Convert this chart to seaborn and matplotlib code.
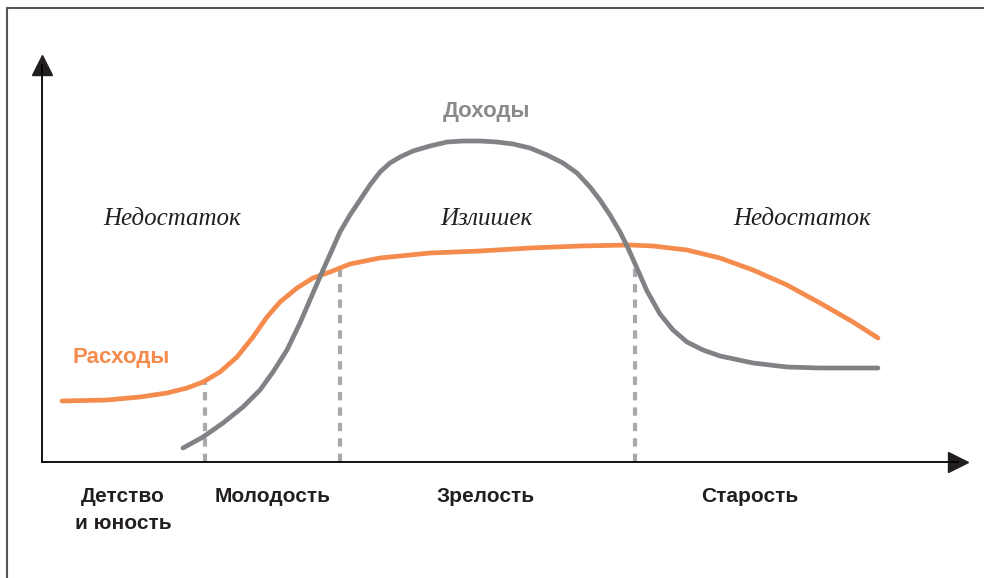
import pandas as pd
import seaborn as sns
import matplotlib.pyplot as plt
from matplotlib.lines import Line2D

# Curves (x = life time, y = amount, arbitrary units)
exp_x = [20, 65, 98, 125, 145, 161, 178, 195, 211, 225, 238, 255, 271, 288, 308, 338,
         388, 438, 488, 538, 588, 611, 645, 678, 711, 745, 778, 811, 836]
exp_y = [61, 62, 65, 69, 74, 80, 90, 105, 125, 145, 160, 174, 184, 190, 198, 204,
         209, 211, 214, 216, 217, 216, 212, 204, 192, 177, 159, 140, 124]

inc_x = [141, 161, 181, 201, 218, 231, 245, 258, 271, 281, 290, 298, 308, 318, 328, 338,
         348, 358, 371, 388, 405, 421, 438, 455, 471, 488, 505, 521, 535, 548, 558, 568,
         578, 586, 594, 605, 618, 631, 645, 661, 678, 711, 745, 778, 811, 836]
inc_y = [14, 25, 39, 55, 72, 90, 112, 139, 169, 192, 212, 230, 247, 262, 277, 290,
         299, 305, 311, 316, 320, 321, 321, 320, 318, 314, 307, 299, 289, 275, 262, 247,
         230, 214, 196, 171, 148, 132, 120, 112, 106, 99, 95, 94, 94, 94]

# stage boundaries and the height of their dotted guides
bound_x = [163, 298, 593]
bound_top = [80, 194, 195]

stages = ["Детство\nи юность", "Молодость", "Зрелость", "Старость"]
stage_x = [81, 231, 444, 708]

orange = "#f58b4c"
grey = "#808285"

sns.set_style("white")
plt.rcParams["font.family"] = ["Liberation Sans", "DejaVu Sans"]

fig = plt.figure(figsize=(9.84, 5.78), dpi=100)
ax = fig.add_axes([42 / 984, 116 / 578, 916 / 984, 397 / 578])

# dotted guides first so the curves sit on top
ax.vlines(bound_x, 0, bound_top, colors="#a7a9ac", linewidth=3, linestyles=(0, (2, 1.7)))

exp = pd.DataFrame({"x": exp_x, "y": exp_y})
inc = pd.DataFrame({"x": inc_x, "y": inc_y})
sns.lineplot(data=exp, x="x", y="y", ax=ax, color=orange, linewidth=3.4, sort=False)
sns.lineplot(data=inc, x="x", y="y", ax=ax, color=grey, linewidth=3.4, sort=False)
for ln in ax.lines:
    ln.set_solid_joinstyle("round")

ax.set_xlim(0, 916)
ax.set_ylim(0, 397)
ax.set_xticks([])
ax.set_yticks([])
ax.set_xlabel("")
ax.set_ylabel("")
for s in ["top", "right"]:
    ax.spines[s].set_visible(False)
for s in ["left", "bottom"]:
    ax.spines[s].set_color("black")
    ax.spines[s].set_linewidth(1.3)

# arrow heads
ax.plot(1, 0, ">", color="#231f20", markersize=14, transform=ax.transAxes, clip_on=False)
ax.plot(0, 1, "^", color="#231f20", markersize=14, transform=ax.transAxes, clip_on=False)

# labels
ax.text(444, 350, "Доходы", color="#898a8d", fontsize=16, fontweight="bold",
        ha="center", va="center")
ax.text(79, 105, "Расходы", color=orange, fontsize=16, fontweight="bold",
        ha="center", va="center")

serif = dict(fontsize=18, style="italic", color="#231f20", ha="center", va="center",
             family=["Liberation Serif", "DejaVu Serif"])
ax.text(130, 243, "Недостаток", **serif)
ax.text(444, 243, "Излишек", **serif)
ax.text(760, 243, "Недостаток", **serif)

for lab, x in zip(stages, stage_x):
    ax.text(x, -25, lab, fontsize=15, fontweight="bold", color="#231f20",
            ha="center", va="top", linespacing=1.55, clip_on=False)

# outer frame (top and left edges only are visible)
fig.add_artist(Line2D([7 / 984, 7 / 984], [0, 1 - 8 / 578], color="#555555",
                      linewidth=1.5, transform=fig.transFigure))
fig.add_artist(Line2D([7 / 984, 1], [1 - 8 / 578, 1 - 8 / 578], color="#555555",
                      linewidth=1.5, transform=fig.transFigure))

fig.savefig("out.png", dpi=100)
